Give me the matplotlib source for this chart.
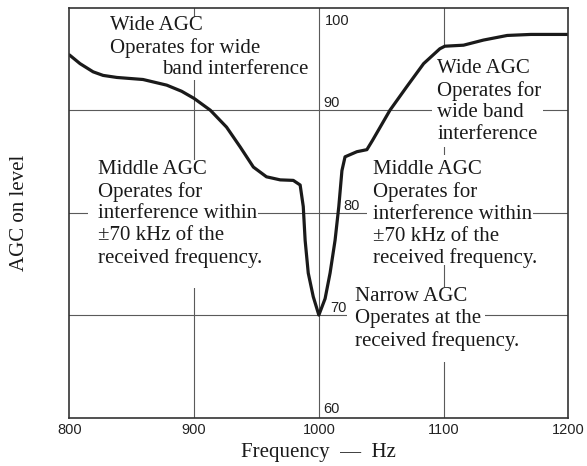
import matplotlib
matplotlib.use("Agg")
import matplotlib.pyplot as plt
from matplotlib.patches import Rectangle

# ---- data ----
freq = [800, 808.5, 819, 827, 838, 859, 878, 890, 900, 913, 926, 937, 947.5,
        958, 969, 979.5, 985, 987.5, 989, 991.5, 995.5, 1000, 1005, 1009,
        1013, 1016, 1018.5, 1021, 1030.5, 1038.5, 1043, 1057, 1070.5, 1084,
        1097, 1101, 1116, 1132, 1151, 1170, 1200]
level = [95.4, 94.55, 93.75, 93.4, 93.2, 93.0, 92.45, 91.85, 91.15, 90.0,
         88.35, 86.4, 84.45, 83.5, 83.2, 83.15, 82.7, 80.6, 77.3, 74.1, 71.8,
         70.0, 71.6, 74.1, 77.3, 80.6, 84.1, 85.45, 85.95, 86.15, 87.05, 90.0,
         92.3, 94.55, 96.0, 96.25, 96.35, 96.85, 97.3, 97.4, 97.4]

xticks = [800, 900, 1000, 1100, 1200]
xtick_labels = ["800", "900", "1000", "1100", "1200"]
yticks = [100, 90, 80, 70, 60]
ytick_labels = ["100", "90", "80", "70", "60"]

x_label = "Frequency  \u2014  Hz"
y_label = "AGC on level"

notes = [
    "Wide AGC\nOperates for wide",
    "band interference",
    "Middle AGC\nOperates for\ninterference within\n\u00b170 kHz of the\nreceived frequency.",
    "Wide AGC\nOperates for\nwide band\ninterference",
    "Middle AGC\nOperates for\ninterference within\n\u00b170 kHz of the\nreceived frequency.",
    "Narrow AGC\nOperates at the\nreceived frequency.",
]

# ---- layout ----
W, H = 587, 466
fig = plt.figure(figsize=(W / 100, H / 100), dpi=100)
ax = fig.add_axes([69.4 / W, 1 - 417.5 / H, (568.3 - 69.4) / W, (417.5 - 7.8) / H])
ax.set_xlim(800, 1200)
ax.set_ylim(60, 100)

serif = "Liberation Serif"
sans = "Liberation Sans"
grid_c = "#5a5a5a"

# grid lines (interior only)
for xv in xticks[1:-1]:
    ax.axvline(xv, color=grid_c, lw=0.8, zorder=0.5)
for yv in yticks[1:-1]:
    ax.axhline(yv, color=grid_c, lw=0.8, zorder=0.5)

# white masks behind the annotation blocks (x0, y0, x1, y1 in data units)
masks = [(828.6, 92.93, 994.6, 99.07),
         (815.0, 72.63, 951.3, 85.12),
         (1090.8, 86.39, 1179.9, 96.15),
         (1038.7, 74.88, 1171.9, 85.61),
         (1022.7, 65.41, 1133.4, 72.73)]
for x0, y0, x1, y1 in masks:
    ax.add_patch(Rectangle((x0, y0), x1 - x0, y1 - y0, facecolor="white",
                           edgecolor="none", zorder=1))

# curve
ax.plot(freq, level, color="#1a1a1a", lw=2.3, zorder=3,
        solid_joinstyle="round", solid_capstyle="round")

# annotation texts (x, last-line baseline)
note_pos = [(832.6, 95.56), (874.0, 93.54), (822.7, 75.07),
            (1095.1, 87.17), (1043.3, 75.04), (1029.1, 66.98)]
for (tx, ty), s in zip(note_pos, notes):
    ax.text(tx, ty, s, family=serif, fontsize=15, color="#1a1a1a",
            ha="left", va="baseline", linespacing=1.2, zorder=4)

# x ticks
ax.set_xticks(xticks)
ax.set_xticklabels(xtick_labels, family=sans, fontsize=10.5, color="#222222")
ax.tick_params(axis="x", length=0, pad=4)
ax.set_yticks([])

# y tick labels placed inside, next to the 1000 line
ylab_pos = [(1004.5, 98.35), (1003.7, 90.3), (1019.5, 80.25),
            (1009.1, 70.3), (1003.7, 60.45)]
for (tx, ty), s in zip(ylab_pos, ytick_labels):
    ax.text(tx, ty, s, family=sans, fontsize=10.5, color="#222222",
            ha="left", va="baseline", zorder=4)

for sp in ax.spines.values():
    sp.set_color("#333333")
    sp.set_linewidth(1.2)
    sp.set_zorder(5)

fig.text(19.5 / W, 1 - 212.5 / H, y_label, family=serif, fontsize=15,
         rotation=90, ha="center", va="center", color="#1a1a1a")
fig.text(318.5 / W, 1 - 457 / H, x_label, family=serif, fontsize=15,
         ha="center", va="baseline", color="#1a1a1a")

fig.savefig("out.png", dpi=100, facecolor="white")
